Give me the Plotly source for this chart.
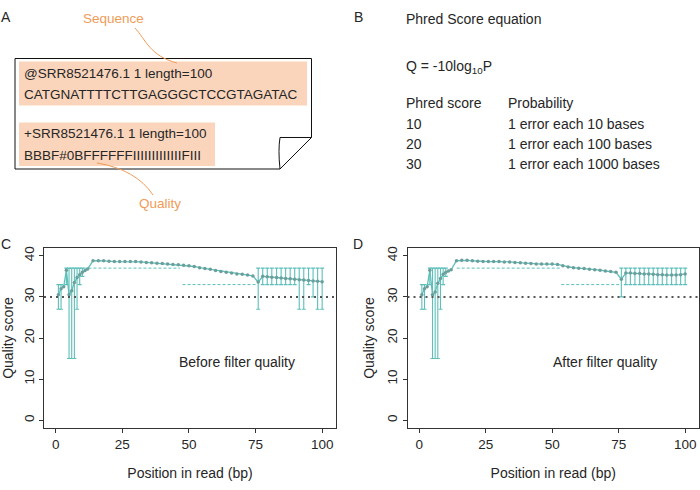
import plotly.graph_objects as go

W, H = 700, 490

# ---------------- data ----------------
pos_left = [1, 2, 3, 4, 5, 6, 7, 8, 9, 10, 11, 12]
pos_mid = [14, 16, 18, 20, 22, 24, 26, 28, 30, 32, 34, 36, 38, 40, 42, 44, 46,
           48, 50, 52, 54, 56, 58, 60, 62, 64, 66, 68, 70, 72, 74]
pos_right = [76, 77.7, 79.4, 81.1, 82.9, 84.6, 86.3, 88, 89.7, 91.4, 93.1,
             94.9, 96.6, 98.3, 100]

mean_c_left = [30.5, 32, 32.5, 36.5, 30.5, 31.5, 33.5, 34.7, 35.4, 36, 36.4, 36.8]
mean_c_mid = [38.8, 38.8, 38.8, 38.7, 38.6, 38.6, 38.6, 38.6, 38.6, 38.5, 38.4,
              38.3, 38.2, 38.1, 38.0, 37.9, 37.8, 37.7, 37.6, 37.4, 37.1, 36.9,
              36.7, 36.4, 36.2, 36.0, 35.8, 35.6, 35.5, 35.3, 35.1]
mean_c_right = [33.6, 35.0, 34.9, 34.8, 34.7, 34.6, 34.5, 34.4, 34.3, 34.2,
                34.1, 34.0, 33.9, 33.8, 33.7]

mean_d_left = [30.5, 32, 32.5, 36.5, 30.5, 31.2, 33.3, 34.5, 35.5, 36, 36.3, 36.6]
mean_d_mid = [38.8, 38.9, 38.9, 38.8, 38.7, 38.6, 38.6, 38.6, 38.6, 38.5, 38.5,
              38.4, 38.3, 38.2, 38.1, 38.0, 38.0, 38.0, 38.0, 37.9, 37.6, 37.3,
              37.1, 37.0, 36.9, 36.7, 36.6, 36.5, 36.3, 36.2, 36.0]
mean_d_right = [34.3, 35.8, 35.8, 35.7, 35.7, 35.6, 35.6, 35.5, 35.4, 35.4,
                35.3, 35.3, 35.3, 35.4, 35.6]

err_pos_left = [1, 2, 4, 5, 6, 7, 8, 9, 10]
err_lo_c_left = [27, 27, 33, 15, 15, 15, 27, 33, 35]
err_hi_c_left = [33, 33, 37, 37, 37, 37, 37, 37, 37]
err_lo_d_left = [27, 27, 33, 15, 15, 15, 27, 33, 35]
err_hi_d_left = [33, 33, 37, 37, 37, 37, 37, 37, 37]

err_lo_c_right = [27, 33, 33, 33, 33, 33, 33, 33, 33, 27, 27, 33, 30, 27, 27]
err_hi_c_right = [37] * 15
err_lo_d_right = [30, 33, 33, 33, 33, 33, 33, 33, 33, 33, 33, 33, 33, 33, 33]
err_hi_d_right = [37] * 15

dash_c_x = [[10.4, 46.6], [47.6, 75.6]]
dash_c_y = [37, 33]
dash_d_x = [[14.1, 53.1], [53.4, 75.4]]
dash_d_y = [37, 33]

threshold = 30
x_ticks = [0, 25, 50, 75, 100]
y_ticks = [0, 10, 20, 30, 40]

# ---------------- style ----------------
FONT = "Liberation Sans, Arial, Helvetica, sans-serif"
TXT = "#262626"
TEAL = "#5cbfba"
TEAL_DARK = "#6a9f9b"
ORANGE = "#ef9c58"
PEACH = "#fad5bc"


def px(x):
    return x / W


def py(y):
    return 1 - y / H


fig = go.Figure()


def add_panel(xa, ya, mean_l, mean_m, mean_r, lo_l, hi_l, lo_r, hi_r, dx, dy):
    xs = pos_left + pos_mid + pos_right
    ys = mean_l + mean_m + mean_r
    ex = err_pos_left + pos_right
    lo = lo_l + lo_r
    hi = hi_l + hi_r
    fig.add_trace(go.Scatter(
        x=ex, y=lo, mode="markers", xaxis=xa, yaxis=ya,
        marker=dict(size=1, color="rgba(0,0,0,0)"),
        error_y=dict(type="data", symmetric=False,
                     array=[h - l for h, l in zip(hi, lo)],
                     arrayminus=[0] * len(lo),
                     color=TEAL, thickness=1.1, width=2),
        showlegend=False, hoverinfo="skip"))
    for seg, yv in zip(dx, dy):
        fig.add_trace(go.Scatter(
            x=seg, y=[yv, yv], mode="lines", xaxis=xa, yaxis=ya,
            line=dict(color=TEAL, width=1, dash="3px,2px"),
            showlegend=False, hoverinfo="skip"))
    fig.add_trace(go.Scatter(
        x=xs, y=ys, mode="lines+markers", xaxis=xa, yaxis=ya,
        line=dict(color=TEAL, width=1.3),
        marker=dict(size=3.5, color=TEAL_DARK),
        showlegend=False))


add_panel("x", "y", mean_c_left, mean_c_mid, mean_c_right,
          err_lo_c_left, err_hi_c_left, err_lo_c_right, err_hi_c_right,
          dash_c_x, dash_c_y)
add_panel("x2", "y2", mean_d_left, mean_d_mid, mean_d_right,
          err_lo_d_left, err_hi_d_left, err_lo_d_right, err_hi_d_right,
          dash_d_x, dash_d_y)


def xaxis(domain):
    return dict(domain=domain, range=[-4.4, 105.2], tickvals=x_ticks,
                ticks="outside", ticklen=4, tickcolor="#333", tickwidth=1,
                showline=True, mirror=True, linecolor="#333", linewidth=1,
                showgrid=False, zeroline=False, automargin=False,
                tickfont=dict(family=FONT, size=13.5, color=TXT),
                title=dict(text="Position in read (bp)", standoff=16,
                           font=dict(family=FONT, size=14, color=TXT)))


def yaxis(domain, anchor):
    return dict(domain=domain, range=[-1.9, 41.9], tickvals=y_ticks,
                anchor=anchor, tickangle=-90,
                ticks="outside", ticklen=4, tickcolor="#333", tickwidth=1,
                showline=True, mirror=True, linecolor="#333", linewidth=1,
                showgrid=False, zeroline=False, automargin=False,
                tickfont=dict(family=FONT, size=13.5, color=TXT),
                title=dict(text="Quality score", standoff=7,
                           font=dict(family=FONT, size=14, color=TXT)))


ydom = [py(428), py(248)]
fig.update_layout(
    width=W, height=H,
    margin=dict(l=0, r=0, t=0, b=0),
    paper_bgcolor="white", plot_bgcolor="white",
    font=dict(family=FONT, color=TXT),
    xaxis=dict(**xaxis([px(44), px(336)]), anchor="y"),
    yaxis=yaxis(ydom, "x"),
    xaxis2=dict(**xaxis([px(407.5), px(699)]), anchor="y2"),
    yaxis2=yaxis(ydom, "x2"),
)

shapes = []
# threshold dotted lines
for xr, yr in (("x domain", "y"), ("x2 domain", "y2")):
    shapes.append(dict(type="line", xref=xr, yref=yr, x0=0, x1=1,
                       y0=threshold, y1=threshold,
                       line=dict(color="#555", width=2, dash="2px,4px")))

# panel A: note with folded corner
P = lambda x, y: f"{px(x):.5f},{py(y):.5f}"
shapes.append(dict(type="path", xref="paper", yref="paper",
                   path=f"M{P(15,58.5)} L{P(311.5,58.5)} L{P(311.5,137.5)} "
                        f"L{P(280,169)} L{P(15,169)} Z",
                   line=dict(color="#111", width=1), fillcolor="white",
                   layer="below"))
shapes.append(dict(type="rect", xref="paper", yref="paper",
                   x0=px(19), x1=px(307), y0=py(105.5), y1=py(61.5),
                   fillcolor=PEACH, line=dict(width=0), layer="below"))
shapes.append(dict(type="rect", xref="paper", yref="paper",
                   x0=px(19), x1=px(215), y0=py(166), y1=py(122.5),
                   fillcolor=PEACH, line=dict(width=0), layer="below"))
shapes.append(dict(type="path", xref="paper", yref="paper",
                   path=f"M{P(280,169)} Q{P(278,150)} {P(280,137.5)} "
                        f"L{P(311.5,137.5)}",
                   line=dict(color="#111", width=1)))
# connectors
shapes.append(dict(type="path", xref="paper", yref="paper",
                   path=f"M{P(135,28)} C{P(146,40)} {P(150,56)} {P(177,63)}",
                   line=dict(color=ORANGE, width=1)))
shapes.append(dict(type="path", xref="paper", yref="paper",
                   path=f"M{P(97,163)} C{P(122,167)} {P(142,178)} {P(153,195)}",
                   line=dict(color=ORANGE, width=1)))
fig.update_layout(shapes=shapes)

anns = []


def ann(text, x, y, size=13.5, color=TXT, xanchor="left"):
    anns.append(dict(text=text, x=px(x), y=py(y), xref="paper", yref="paper",
                     xanchor=xanchor, yanchor="middle", showarrow=False,
                     font=dict(family=FONT, size=size, color=color)))


ann("A", 5.5, 17.5, size=14, xanchor="center")
ann("B", 358, 17.5, size=14, xanchor="center")
ann("C", 5.5, 243.5, size=14, xanchor="center")
ann("D", 358, 243.5, size=14, xanchor="center")

ann("Sequence", 113.5, 18.5, color=ORANGE, xanchor="center")
ann("Quality", 160, 203.5, color=ORANGE, xanchor="center")
ann("@SRR8521476.1 1 length=100", 21.5, 73)
ann("CATGNATTTTCTTGAGGGCTCCGTAGATAC", 21.5, 94.5)
ann("+SRR8521476.1 1 length=100", 21.5, 133.5)
ann("BBBF#0BFFFFFFIIIIIIIIIIIIIFIII", 21.5, 155)

ann("Phred Score equation", 403.5, 18.5, size=14)
ann("Q = -10log<sub>10</sub>P", 403.5, 67, size=14)
ann("Phred score", 403.5, 103.5, size=14)
ann("Probability", 505.5, 103.5, size=14)
for i, (q, p) in enumerate([("10", "1 error each 10 bases"),
                            ("20", "1 error each 100 bases"),
                            ("30", "1 error each 1000 bases")]):
    ann(q, 403.5, 123.5 + 20 * i, size=14)
    ann(p, 505.5, 123.5 + 20 * i, size=14)

anns.append(dict(text="Before filter quality", x=68, y=14.1, xref="x", yref="y",
                 showarrow=False, font=dict(family=FONT, size=14, color=TXT)))
anns.append(dict(text="After filter quality", x=69.7, y=14.1, xref="x2", yref="y2",
                 showarrow=False, font=dict(family=FONT, size=14, color=TXT)))
fig.update_layout(annotations=anns)

fig.write_html("out.html", config={"displayModeBar": False},
               post_script="document.body.style.margin='0';")
